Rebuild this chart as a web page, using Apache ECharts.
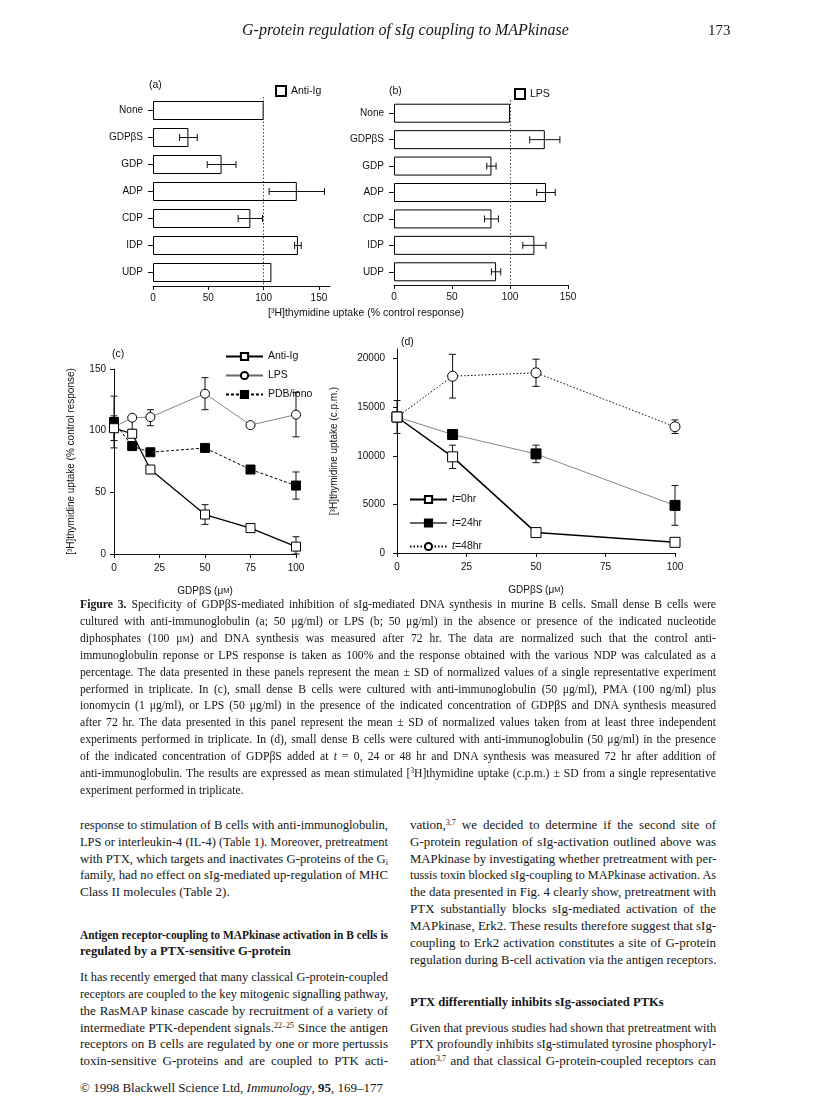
<!DOCTYPE html>
<html>
<head>
<meta charset="utf-8">
<script src="https://cdn.jsdelivr.net/npm/echarts@6/dist/echarts.min.js"></script>
<style>
  body { margin: 0; background: #fff; }
  #page { position: relative; width: 816px; height: 1109px; overflow: hidden;
    font-family: 'Liberation Serif', 'Times New Roman', serif; color: #161616; }
  #chart { position: absolute; left: 0; top: 0; width: 816px; height: 600px; }
  .ln { position: absolute; white-space: nowrap; height: 16px; line-height: 16px; transform-origin: left center; }
  .j { text-align: justify; text-align-last: justify; }
  .cap { font-size: 11.7px; }
  .body { font-size: 13px; }
  .hd { font-size: 12.6px; }
  sup { font-size: 0.62em; vertical-align: 0.55em; line-height: 0; }
  sub { font-size: 0.62em; vertical-align: -0.2em; line-height: 0; }
  .sc { font-variant: small-caps; }
</style>
</head>
<body>
<div id="page">
  <div id="chart"></div>
  <div class="ln" style="left:242px;top:22px;font-size:16px;font-style:italic;">G-protein regulation of sIg coupling to MAPkinase</div>
  <div class="ln" style="left:708px;top:22px;font-size:15px;">173</div>
  <div id="text"></div>
</div>
<script>
// (a), (b): nucleotide diphosphates, % control response
const nucleotides = ['None', 'GDPβS', 'GDP', 'ADP', 'CDP', 'IDP', 'UDP'];
const antiIgPct = [100, 32, 62, 130, 88, 131, 107];
const antiIgPctSd = [0, 8, 13, 25, 11, 3, 0];
const lpsPct = [100, 130, 84, 131, 84, 121, 88];
const lpsPctSd = [0, 13, 4, 8, 6, 10, 4];
const pctTicks = [0, 50, 100, 150];

// (c): GDPbS dose, % control response
const doseC = [0, 10, 20, 50, 75, 100];
const antiIgDose = [102, 97.5, 68.5, 32, 21, 6];
const antiIgDoseLo = [10, 0, 0, 8, 0, 6];
const antiIgDoseHi = [10, 0, 0, 8, 0, 8];
const lpsDose = [103, 110.5, 111, 130, 104.5, 113];
const lpsDoseLo = [0, 9.5, 7, 13, 0, 18];
const lpsDoseHi = [0, 0, 6, 13, 0, 18];
const pdbDose = [107, 87.5, 82.5, 86, 68.5, 55.5];
const pdbDoseLo = [21, 0, 0, 0, 0, 11];
const pdbDoseHi = [21, 0, 0, 0, 0, 11];
const pctTicksC = [0, 50, 100, 150];

// (d): GDPbS added at t = 0, 24, 48 hr, c.p.m.
const doseD = [0, 20, 50, 100];
const cpmT0 = [14000, 9900, 2100, 1100];
const cpmT0Sd = [0, 1200, 0, 0];
const cpmT24 = [14000, 12200, 10200, 4900];
const cpmT24Sd = [0, 0, 900, 2050];
const cpmT48 = [14000, 18200, 18550, 13000];
const cpmT48Sd = [1700, 2250, 1400, 700];
const cpmTicks = [0, 5000, 10000, 15000, 20000];
const doseTicks = [0, 25, 50, 75, 100];

const FONT = "'Liberation Sans', Arial, sans-serif";
const INK = '#111';

const myChart = echarts.init(document.getElementById('chart'));

function valueAxis(grid, min, max, ticks, margin, extra) {
  return Object.assign({
    type: 'value', gridIndex: grid, min: min, max: max,
    splitLine: {show: false},
    axisLine: {show: true, lineStyle: {color: INK, width: 1}},
    axisTick: {show: true, length: 4, lineStyle: {color: INK}, customValues: ticks},
    axisLabel: {color: INK, fontSize: 10, fontFamily: FONT, margin: margin, customValues: ticks,
      formatter: v => String(v)}
  }, extra || {});
}

function catAxis(grid) {
  return {
    type: 'category', gridIndex: grid, data: nucleotides, inverse: true,
    axisLine: {show: false},
    axisTick: {show: true, alignWithLabel: true, length: 5, lineStyle: {color: INK}},
    axisLabel: {color: INK, fontSize: 10, fontFamily: FONT, margin: 10}
  };
}

// horizontal error bars for the bar panels
function hErr(vals, sds, axis) {
  return {
    type: 'custom', xAxisIndex: axis, yAxisIndex: axis, z: 5, silent: true,
    data: vals.map((v, i) => [v - sds[i], v + sds[i], i, sds[i]]),
    encode: {x: [0, 1], y: 2},
    renderItem: function (params, api) {
      if (!api.value(3)) return;
      const a = api.coord([api.value(0), api.value(2)]);
      const b = api.coord([api.value(1), api.value(2)]);
      const h = 3.5;
      const st = {stroke: INK, lineWidth: 1};
      return {type: 'group', children: [
        {type: 'line', shape: {x1: a[0], y1: a[1], x2: b[0], y2: b[1]}, style: st},
        {type: 'line', shape: {x1: a[0], y1: a[1] - h, x2: a[0], y2: a[1] + h}, style: st},
        {type: 'line', shape: {x1: b[0], y1: b[1] - h, x2: b[0], y2: b[1] + h}, style: st}
      ]};
    }
  };
}

// vertical error bars for the dose panels
function vErr(xs, vals, lo, hi, axis) {
  return {
    type: 'custom', xAxisIndex: axis, yAxisIndex: axis, z: 5, silent: true,
    data: xs.map((x, i) => [x, vals[i] - lo[i], vals[i] + hi[i], lo[i], hi[i]]),
    encode: {x: 0, y: [1, 2]},
    renderItem: function (params, api) {
      const x = api.value(0);
      const lo = api.value(3), hi = api.value(4);
      if (!lo && !hi) return;
      const a = api.coord([x, api.value(1)]);
      const b = api.coord([x, api.value(2)]);
      const h = 3.5;
      const st = {stroke: INK, lineWidth: 1};
      const kids = [{type: 'line', shape: {x1: a[0], y1: a[1], x2: b[0], y2: b[1]}, style: st}];
      if (lo) kids.push({type: 'line', shape: {x1: a[0] - h, y1: a[1], x2: a[0] + h, y2: a[1]}, style: st});
      if (hi) kids.push({type: 'line', shape: {x1: b[0] - h, y1: b[1], x2: b[0] + h, y2: b[1]}, style: st});
      return {type: 'group', children: kids};
    }
  };
}

function pairs(xs, ys) {
  return xs.map((x, i) => [x, ys[i]]);
}

const openMark = {color: '#fff', borderColor: '#000', borderWidth: 1};
const fullMark = {color: '#000', borderColor: '#000', borderWidth: 1};
const dotted100 = {
  silent: true, symbol: 'none', label: {show: false},
  lineStyle: {type: [1.5, 2], color: '#444', width: 1},
  data: [{xAxis: 100}]
};

const nameGdp = 'GDPβS (μ{sc|M})';
const nameStyle = {color: INK, fontSize: 10, fontFamily: FONT, rich: {sc: {fontSize: 7.5, fontFamily: FONT, color: INK}}};
const legendText = {color: INK, fontSize: 10.5, fontFamily: FONT};

myChart.setOption({
  animation: false,
  grid: [
    {left: 153, top: 97, width: 177, height: 189},
    {left: 394, top: 100, width: 174, height: 185},
    {left: 114, top: 369, width: 182, height: 185},
    {left: 397, top: 349, width: 278, height: 204}
  ],
  xAxis: [
    valueAxis(0, 0, 160, pctTicks, 7),
    valueAxis(1, 0, 150, pctTicks, 7, {interval: 50}),
    valueAxis(2, 0, 100, doseTicks, 9, {interval: 25, name: nameGdp, nameLocation: 'middle', nameGap: 32, nameTextStyle: nameStyle}),
    valueAxis(3, 0, 100, doseTicks, 9, {interval: 25, name: nameGdp, nameLocation: 'middle', nameGap: 32, nameTextStyle: nameStyle})
  ],
  yAxis: [
    catAxis(0),
    catAxis(1),
    valueAxis(2, 0, 150, pctTicksC, 8, {interval: 50, name: '[³H]thymidine uptake (% control response)',
      nameLocation: 'middle', nameGap: 38, nameTextStyle: nameStyle}),
    valueAxis(3, 0, 21000, cpmTicks, 12, {name: '[³H]thymidine uptake (c.p.m.)',
      nameLocation: 'middle', nameGap: 58, nameTextStyle: nameStyle})
  ],
  legend: [
    {data: ['Anti-Ig (a)'], left: 270, top: 80, icon: 'rect', itemWidth: 10, itemHeight: 10, itemGap: 4,
      selectedMode: false, formatter: n => n.split(' ')[0], textStyle: legendText},
    {data: ['LPS (b)'], left: 509, top: 83, icon: 'rect', itemWidth: 10, itemHeight: 10, itemGap: 4,
      selectedMode: false, formatter: n => n.split(' ')[0], textStyle: legendText},
    {data: ['Anti-Ig', 'LPS', 'PDB/iono'], orient: 'vertical', left: 220, top: 346, itemWidth: 37, itemHeight: 9,
      itemGap: 8, selectedMode: false, textStyle: legendText},
    {data: ['t0', 't24', 't48'], orient: 'vertical', left: 404, top: 489, itemWidth: 37, itemHeight: 9,
      itemGap: 12.5, selectedMode: false,
      formatter: n => '{i|t}=' + n.slice(1) + 'hr',
      textStyle: Object.assign({rich: {i: {fontStyle: 'italic', fontSize: 10.5, fontFamily: FONT, color: INK}}}, legendText)}
  ],
  graphic: [
    {type: 'text', left: 149, top: 80, style: {text: '(a)', fontSize: 10.5, fontFamily: FONT, fill: INK}},
    {type: 'text', left: 389, top: 86, style: {text: '(b)', fontSize: 10.5, fontFamily: FONT, fill: INK}},
    {type: 'text', left: 112, top: 349, style: {text: '(c)', fontSize: 10.5, fontFamily: FONT, fill: INK}},
    {type: 'text', left: 401, top: 337, style: {text: '(d)', fontSize: 10.5, fontFamily: FONT, fill: INK}},
    {type: 'text', left: 268, top: 308, style: {text: '[³H]thymidine uptake (% control response)', fontSize: 10.5, fontFamily: FONT, fill: INK}}
  ],
  series: [
    {name: 'Anti-Ig (a)', type: 'bar', xAxisIndex: 0, yAxisIndex: 0, data: antiIgPct, barWidth: 19,
      itemStyle: {color: '#fff', borderColor: '#000', borderWidth: 1}, markLine: dotted100},
    hErr(antiIgPct, antiIgPctSd, 0),
    {name: 'LPS (b)', type: 'bar', xAxisIndex: 1, yAxisIndex: 1, data: lpsPct, barWidth: 19,
      itemStyle: {color: '#fff', borderColor: '#000', borderWidth: 1}, markLine: dotted100},
    hErr(lpsPct, lpsPctSd, 1),

    vErr(doseC, antiIgDose, antiIgDoseLo, antiIgDoseHi, 2),
    vErr(doseC, lpsDose, lpsDoseLo, lpsDoseHi, 2),
    vErr(doseC, pdbDose, pdbDoseLo, pdbDoseHi, 2),
    {name: 'LPS', type: 'line', xAxisIndex: 2, yAxisIndex: 2, data: pairs(doseC, lpsDose), z: 8,
      symbol: 'circle', symbolSize: 9, lineStyle: {color: '#666', width: 0.8}, itemStyle: openMark},
    {name: 'PDB/iono', type: 'line', xAxisIndex: 2, yAxisIndex: 2, data: pairs(doseC, pdbDose), z: 9,
      symbol: 'rect', symbolSize: 9, lineStyle: {color: '#000', width: 1, type: [3, 2]}, itemStyle: fullMark},
    {name: 'Anti-Ig', type: 'line', xAxisIndex: 2, yAxisIndex: 2, data: pairs(doseC, antiIgDose), z: 10,
      symbol: 'rect', symbolSize: 9, lineStyle: {color: '#000', width: 1.3}, itemStyle: openMark},

    vErr(doseD, cpmT0, cpmT0Sd, cpmT0Sd, 3),
    vErr(doseD, cpmT24, cpmT24Sd, cpmT24Sd, 3),
    vErr(doseD, cpmT48, cpmT48Sd, cpmT48Sd, 3),
    {name: 't48', type: 'line', xAxisIndex: 3, yAxisIndex: 3, data: pairs(doseD, cpmT48), z: 8,
      symbol: 'circle', symbolSize: 10, lineStyle: {color: '#000', width: 1, type: [1.5, 2]}, itemStyle: openMark},
    {name: 't24', type: 'line', xAxisIndex: 3, yAxisIndex: 3, data: pairs(doseD, cpmT24), z: 9,
      symbol: 'rect', symbolSize: 10, lineStyle: {color: '#666', width: 0.8}, itemStyle: fullMark},
    {name: 't0', type: 'line', xAxisIndex: 3, yAxisIndex: 3, data: pairs(doseD, cpmT0), z: 10,
      symbol: 'rect', symbolSize: 10, lineStyle: {color: '#000', width: 1.5}, itemStyle: openMark}
  ]
});

// page text (caption and the two body columns), one entry per printed line
const M = '<span class="sc">m</span>';
const captionLines = [
  '<b>Figure 3.</b> Specificity of GDPβS-mediated inhibition of sIg-mediated DNA synthesis in murine B cells. Small dense B cells were',
  'cultured with anti-immunoglobulin (a; 50 μg/ml) or LPS (b; 50 μg/ml) in the absence or presence of the indicated nucleotide',
  'diphosphates (100 μ' + M + ') and DNA synthesis was measured after 72 hr. The data are normalized such that the control anti-',
  'immunoglobulin reponse or LPS response is taken as 100% and the response obtained with the various NDP was calculated as a',
  'percentage. The data presented in these panels represent the mean ± SD of normalized values of a single representative experiment',
  'performed in triplicate. In (c), small dense B cells were cultured with anti-immunoglobulin (50 μg/ml), PMA (100 ng/ml) plus',
  'ionomycin (1 μg/ml), or LPS (50 μg/ml) in the presence of the indicated concentration of GDPβS and DNA synthesis measured',
  'after 72 hr. The data presented in this panel represent the mean ± SD of normalized values taken from at least three independent',
  'experiments performed in triplicate. In (d), small dense B cells were cultured with anti-immunoglobulin (50 μg/ml) in the presence',
  'of the indicated concentration of GDPβS added at <i>t</i> = 0, 24 or 48 hr and DNA synthesis was measured 72 hr after addition of',
  'anti-immunoglobulin. The results are expressed as mean stimulated [<sup>3</sup>H]thymidine uptake (c.p.m.) ± SD from a single representative',
  'experiment performed in triplicate.'
];
const leftLines = [
  ['response to stimulation of B cells with anti-immunoglobulin,', 0, 'body j'],
  ['LPS or interleukin-4 (IL-4) (Table 1). Moreover, pretreatment', 1, 'body j'],
  ['with PTX, which targets and inactivates G-proteins of the G<sub>i</sub>', 2, 'body j'],
  ['family, had no effect on sIg-mediated up-regulation of MHC', 3, 'body j'],
  ['Class II molecules (Table 2).', 4, 'body'],
  ['<b>Antigen receptor-coupling to MAPkinase activation in B cells is</b>', 6.5, 'hd j'],
  ['<b>regulated by a PTX-sensitive G-protein</b>', 7.5, 'hd'],
  ['It has recently emerged that many classical G-protein-coupled', 9, 'body j'],
  ['receptors are coupled to the key mitogenic signalling pathway,', 10, 'body j'],
  ['the RasMAP kinase cascade by recruitment of a variety of', 11, 'body j'],
  ['intermediate PTK-dependent signals.<sup>22–25</sup> Since the antigen', 12, 'body j'],
  ['receptors on B cells are regulated by one or more pertussis', 13, 'body j'],
  ['toxin-sensitive G-proteins and are coupled to PTK acti-', 14, 'body j']
];
const rightLines = [
  ['vation,<sup>3,7</sup> we decided to determine if the second site of', 0, 'body j'],
  ['G-protein regulation of sIg-activation outlined above was', 1, 'body j'],
  ['MAPkinase by investigating whether pretreatment with per-', 2, 'body j'],
  ['tussis toxin blocked sIg-coupling to MAPkinase activation. As', 3, 'body j'],
  ['the data presented in Fig. 4 clearly show, pretreatment with', 4, 'body j'],
  ['PTX substantially blocks sIg-mediated activation of the', 5, 'body j'],
  ['MAPkinase, Erk2. These results therefore suggest that sIg-', 6, 'body j'],
  ['coupling to Erk2 activation constitutes a site of G-protein', 7, 'body j'],
  ['regulation during B-cell activation via the antigen receptors.', 8, 'body j'],
  ['<b>PTX differentially inhibits sIg-associated PTKs</b>', 10.5, 'hd'],
  ['Given that previous studies had shown that pretreatment with', 12, 'body j'],
  ['PTX profoundly inhibits sIg-stimulated tyrosine phosphoryl-', 13, 'body j'],
  ['ation<sup>3,7</sup> and that classical G-protein-coupled receptors can', 14, 'body j']
];

const pitch = 16.9;
const capTop = 605;
const bodyTop = capTop + 13 * pitch;
const host = document.getElementById('text');
function addLine(html, left, width, y, cls) {
  const d = document.createElement('div');
  d.className = 'ln ' + cls;
  d.style.left = left + 'px';
  d.style.width = width + 'px';
  d.style.top = (y - 8) + 'px';
  d.innerHTML = html;
  host.appendChild(d);
  return d;
}
captionLines.forEach((t, i) => {
  addLine(t, 80, 636, capTop + i * pitch, 'cap' + (i < captionLines.length - 1 ? ' j' : ''));
});
leftLines.forEach(l => addLine(l[0], 80, 308, bodyTop + l[1] * pitch, l[2]));
rightLines.forEach(l => addLine(l[0], 410, 306, bodyTop + l[1] * pitch, l[2]));
addLine('© 1998 Blackwell Science Ltd, <i>Immunology</i>, <b>95</b>, 169–177', 80, 400, bodyTop + 15.6 * pitch, 'body');

// squeeze any printed line that is wider than its column
document.querySelectorAll('.ln.j').forEach(d => {
  const w = d.clientWidth;
  const natural = d.scrollWidth;
  if (natural > w + 0.5) {
    d.style.width = natural + 'px';
    d.style.transform = 'scaleX(' + (w / natural) + ')';
  }
});
</script>
</body>
</html>
